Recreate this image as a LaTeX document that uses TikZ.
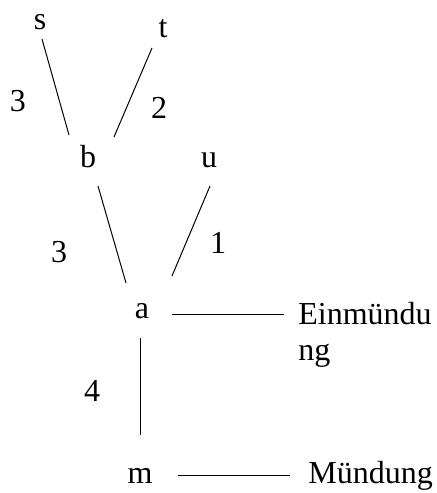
\documentclass[tikz,border=0pt]{standalone}
\usepackage{fontspec}
\setmainfont{Liberation Serif}
\begin{document}
\begin{tikzpicture}[x=0.5pt,y=-0.5pt,
  lbl/.style={inner sep=0pt,anchor=base,font=\fontsize{16}{18}\selectfont},
  wlbl/.style={inner sep=0pt,anchor=base west,font=\fontsize{16}{18}\selectfont,align=left},
  edge/.style={line width=0.5pt}]
\useasboundingbox (0,0) rectangle (436,493);
% vertices
\node[lbl] (s) at (40,29) {s};
\node[lbl] (t) at (163,37) {t};
\node[lbl] (b) at (88,167) {b};
\node[lbl] (u) at (209,167) {u};
\node[lbl] (a) at (142,318) {a};
\node[lbl] (m) at (140,483) {m};
% weights
\node[lbl] (w1) at (18,111) {3};
\node[lbl] (w2) at (159,118) {2};
\node[lbl] (w3) at (59,262) {3};
\node[lbl] (w4) at (218,253) {1};
\node[lbl] (w5) at (92,401) {4};
% side labels
\node[wlbl] (ein) at (298,360) {Einmündu\\ng};
\node[wlbl] (mue) at (308,483) {Mündung};
% connector ends
\coordinate (sb1) at (42,39);  \coordinate (sb2) at (69,135);
\coordinate (tb1) at (152,48); \coordinate (tb2) at (114,137);
\coordinate (ba1) at (98,186); \coordinate (ba2) at (126,283);
\coordinate (ua1) at (210,186); \coordinate (ua2) at (172,276);
\coordinate (ae1) at (172,314); \coordinate (ae2) at (284,314);
\coordinate (am1) at (140,338); \coordinate (am2) at (140,435);
\coordinate (mm1) at (178,475); \coordinate (mm2) at (290,475);
\draw[edge] (sb1) -- (sb2);
\draw[edge] (tb1) -- (tb2);
\draw[edge] (ba1) -- (ba2);
\draw[edge] (ua1) -- (ua2);
\draw[edge] (ae1) -- (ae2);
\draw[edge] (am1) -- (am2);
\draw[edge] (mm1) -- (mm2);
\end{tikzpicture}
\end{document}
